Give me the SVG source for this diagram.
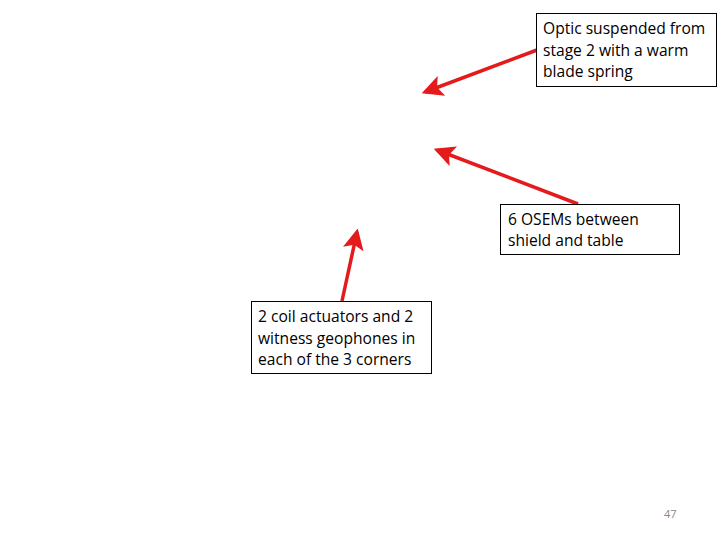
<svg xmlns="http://www.w3.org/2000/svg" width="720" height="540" viewBox="0 0 720 540">
<style>
.box{fill:#fff;stroke:#000;stroke-width:1}
.t{font-family:"Open Sans","Liberation Sans",sans-serif;font-size:15.6px;fill:#000}
.arr{stroke:#e41a1c;stroke-width:3.5;fill:none;marker-end:url(#ah)}
.pg{font-family:"Open Sans","Liberation Sans",sans-serif;font-size:11px;fill:#888}
</style>
<defs>
<marker id="ah" markerWidth="6" markerHeight="6" refX="5" refY="3" orient="auto" markerUnits="strokeWidth">
<path d="M0,0 L6,3 L0,6 L1.3,3 Z" fill="#e41a1c"/>
</marker>
</defs>
<rect width="720" height="540" fill="#fff"/>
<g id="connectors">
<line class="arr" x1="537" y1="50" x2="425" y2="92"/>
<line class="arr" x1="578" y1="204" x2="437" y2="150"/>
<line class="arr" x1="342" y1="301" x2="357" y2="232"/>
</g>
<g id="node1">
<rect class="box" x="536.5" y="13.5" width="180" height="73"/>
<text class="t" x="543" y="34">Optic suspended from</text>
<text class="t" x="543" y="56">stage 2 with a warm</text>
<text class="t" x="543" y="77">blade spring</text>
</g>
<g id="node2">
<rect class="box" x="500.5" y="204.5" width="179" height="50"/>
<text class="t" x="508" y="225">6 OSEMs between</text>
<text class="t" x="508" y="246">shield and table</text>
</g>
<g id="node3">
<rect class="box" x="251.5" y="301.5" width="180" height="72"/>
<text class="t" x="258" y="322">2 coil actuators and 2</text>
<text class="t" x="258" y="344">witness geophones in</text>
<text class="t" x="258" y="365">each of the 3 corners</text>
</g>
<text class="pg" x="664" y="518">47</text>
</svg>
